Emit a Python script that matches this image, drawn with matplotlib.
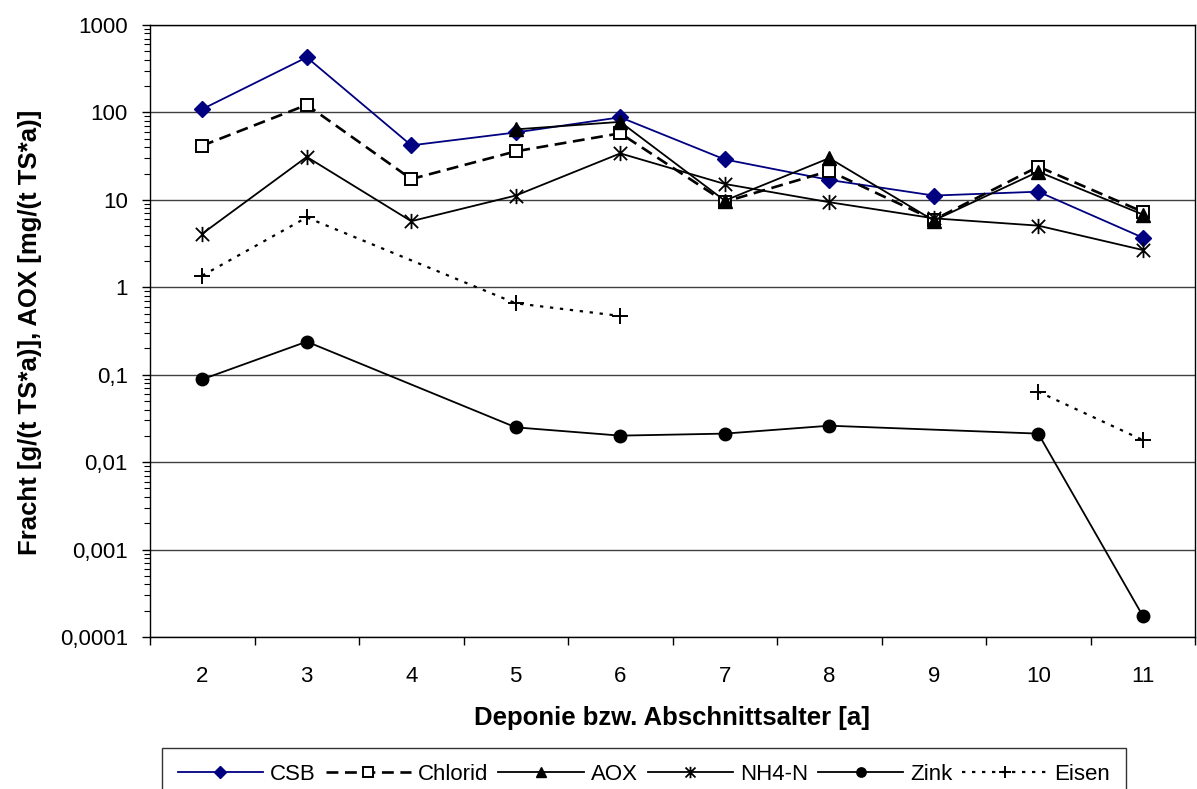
import numpy as np
import matplotlib.pyplot as plt
from matplotlib.path import Path
from matplotlib.ticker import FixedLocator, LogLocator, NullFormatter

plt.rcParams["font.family"] = ["Liberation Sans", "DejaVu Sans"]

# Loads per landfill / section age (NaN = no value)
ages = [2, 3, 4, 5, 6, 7, 8, 9, 10, 11]
csb = [109, 427, 42, 59, 88, 29, 16.9, 11.2, 12.4, 3.7]
chlorid = [41.7, 122, 17.3, 35.9, 57.7, 9.5, 21.4, 5.9, 24, 7.3]
aox = [np.nan, np.nan, np.nan, 64, 78, 9.8, 30, 5.8, 21, 6.8]
nh4n = [4.1, 31, 5.7, 11.2, 34, 15.2, 9.4, 6.15, 5.07, 2.67]
zink = [0.0885, 0.239, np.nan, 0.025, 0.0201, 0.0212, 0.0261, np.nan, 0.0212, 0.000175]
eisen = [1.36, 6.3, np.nan, 0.656, 0.47, np.nan, np.nan, np.nan, 0.064, 0.0179]

# Age ranges that are drawn as one connected line
eisen_runs = [(2, 6), (10, 11)]

y_ticks = [1000, 100, 10, 1, 0.1, 0.01, 0.001, 0.0001]
y_ticklabels = ["1000", "100", "10", "1", "0,1", "0,01", "0,001", "0,0001"]

# Asterisk-like marker (X with a vertical bar)
star = Path([(-1, -1), (1, 1), (-1, 1), (1, -1), (0, -1.15), (0, 1.15)],
            [Path.MOVETO, Path.LINETO] * 3)

x = np.arange(len(ages))


def plot_runs(ax, values, runs, **kw):
    values = np.asarray(values, dtype=float)
    label = kw.pop("label", None)
    for i, (a0, a1) in enumerate(runs):
        sel = np.array([(a0 <= a <= a1) for a in ages]) & np.isfinite(values)
        ax.plot(x[sel], values[sel], label=label if i == 0 else None, **kw)


fig = plt.figure(figsize=(11.97, 7.89), dpi=100)
ax = fig.add_axes([150 / 1197, 1 - 637 / 789, 1045 / 1197, 612 / 789])

full = [(ages[0], ages[-1])]
plot_runs(ax, csb, full, color="#000080", lw=1.3, marker="D", ms=8.5,
          mfc="#000080", mec="#000080", label="CSB")
plot_runs(ax, chlorid, full, color="black", lw=1.9, ls=(0, (4.5, 2.5)), marker="s",
          ms=9, mfc="white", mec="black", mew=1.4, label="Chlorid")
plot_runs(ax, aox, full, color="black", lw=1.3, marker="^", ms=9.5,
          mfc="black", mec="black", label="AOX")
plot_runs(ax, nh4n, full, color="black", lw=1.3, marker=star, ms=11,
          mfc="none", mec="black", mew=1.3, label="NH4-N")
plot_runs(ax, zink, full, color="black", lw=1.3, marker="o", ms=9,
          mfc="black", mec="black", label="Zink")
plot_runs(ax, eisen, eisen_runs, color="black", lw=1.6, ls=(0, (1.5, 3)), marker="+",
          ms=11, mew=1.4, label="Eisen")

ax.set_yscale("log")
ax.set_ylim(0.0001, 1000)
ax.set_xlim(-0.5, len(ages) - 0.5)

ax.yaxis.set_major_locator(FixedLocator(y_ticks))
ax.set_yticklabels(y_ticklabels)
ax.yaxis.set_minor_locator(LogLocator(base=10, subs=np.arange(2, 10)))
ax.yaxis.set_minor_formatter(NullFormatter())
ax.grid(axis="y", which="major", color="#404040", lw=1.0)
ax.set_axisbelow(True)

# Category ticks sit between the ages, labels at the centers
ax.set_xticks(np.arange(-0.5, len(ages)))
ax.set_xticklabels([])
ax.set_xticks(x, minor=True)
ax.set_xticklabels([str(a) for a in ages], minor=True)
ax.tick_params(axis="x", which="major", direction="out", length=6, width=1)
ax.tick_params(axis="x", which="minor", length=0, pad=21, labelsize=16)
ax.tick_params(axis="y", which="major", direction="out", length=6, width=1, pad=10, labelsize=16)
ax.tick_params(axis="y", which="minor", direction="out", length=4.5, width=0.8)

for s in ax.spines.values():
    s.set_color("black")
    s.set_linewidth(1.0)

fig.text(672 / 1197, 1 - 718 / 789, "Deponie bzw. Abschnittsalter [a]",
         ha="center", va="center", fontsize=18.5, fontweight="bold")
fig.text(30 / 1197, 1 - 332 / 789, "Fracht [g/(t TS*a)], AOX [mg/(t TS*a)]",
         ha="center", va="center", rotation=90, fontsize=18.5, fontweight="bold")

leg = fig.legend(loc="upper center", bbox_to_anchor=(644 / 1197, 1 - 737 / 789),
                 ncol=6, fontsize=16, frameon=True, fancybox=False, edgecolor="black",
                 handlelength=3.85, handletextpad=0.3, columnspacing=0.45,
                 borderpad=0.7, markerscale=0.75)
leg.get_frame().set_linewidth(1.0)

fig.savefig("out.png", dpi=100)
